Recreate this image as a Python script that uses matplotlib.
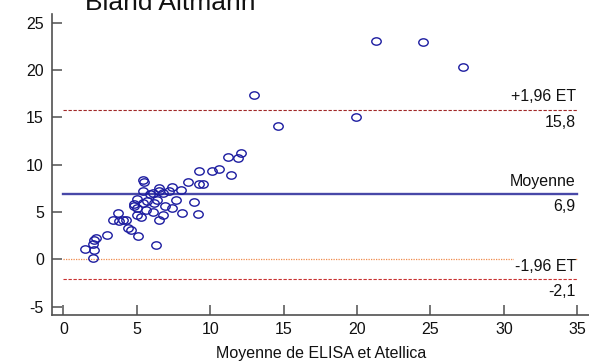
import matplotlib
matplotlib.use("Agg")
import matplotlib.pyplot as plt
from matplotlib.path import Path
from matplotlib.transforms import Affine2D

plt.rcParams['font.family'] = ['Liberation Sans', 'DejaVu Sans']
plt.rcParams['axes.unicode_minus'] = False

mean_x = [1.5, 2.0, 2.1, 2.0, 2.1, 2.2, 3.0, 3.4, 3.7, 3.8, 4.05, 4.3, 4.4, 4.6, 4.8, 4.8,
          5.0, 5.0, 5.0, 5.1, 5.3, 5.4, 5.5, 5.4, 5.4, 5.6, 5.7, 5.9, 6.1, 6.1, 6.2, 6.3,
          6.4, 6.5, 6.5, 6.5, 6.8, 6.8, 6.9, 7.2, 7.4, 7.4, 7.7, 8.0, 8.1, 8.5, 8.9, 9.2,
          9.25, 9.5, 9.25, 10.1, 10.6, 11.4, 11.2, 11.9, 12.1, 13.0, 14.6, 19.9, 21.3,
          24.5, 27.2]
diff_y = [1.1, 0.15, 0.95, 1.6, 2.0, 2.25, 2.6, 4.1, 4.9, 4.0, 4.1, 4.1, 3.3, 3.1, 5.6, 5.8,
          6.4, 5.4, 4.7, 2.5, 4.5, 8.4, 8.2, 7.2, 5.95, 5.25, 6.2, 6.9, 7.0, 5.0, 5.95, 1.55,
          6.3, 7.5, 7.2, 4.2, 7.0, 4.7, 5.6, 7.2, 7.6, 5.4, 6.3, 7.3, 4.9, 8.2, 6.1, 4.8,
          8.0, 8.0, 9.3, 9.3, 9.55, 8.9, 10.8, 10.7, 11.2, 17.4, 14.1, 15.0, 23.1,
          22.9, 20.3]

mean_diff = 6.9
upper_loa = 15.8
lower_loa = -2.1
line_x = [0, 35]

title = "Bland Altmann"
xlabel = "Moyenne de ELISA et Atellica"
xticks = [0, 5, 10, 15, 20, 25, 30, 35]
yticks = [-5, 0, 5, 10, 15, 20, 25]

fig = plt.figure(figsize=(5.89, 3.63), dpi=100)
ax = fig.add_axes([52.3 / 589, 1 - 314.7 / 363, 1 - 52.3 / 589, (314.7 - 14.3) / 363])
ax.set_xlim(-0.75, 35.8)
ax.set_ylim(-5.85, 25.87)

ax.plot(line_x, [0, 0], color='#f08a4a', lw=0.9, ls=(0, (1, 1)), zorder=1)
ax.plot(line_x, [upper_loa] * 2, color='#a02828', lw=0.8, ls=(0, (3, 1.5)), zorder=1)
ax.plot(line_x, [lower_loa] * 2, color='#c83030', lw=0.8, ls=(0, (3, 1.5)), zorder=1)
ax.plot(line_x, [mean_diff] * 2, color='#4848a8', lw=1.7, zorder=2)

ell = Path.unit_circle().transformed(Affine2D().scale(1.0, 0.78))
ax.plot(mean_x, diff_y, ls='none', marker=ell, markersize=6.8, mfc='none',
        mec='#1c1ca0', mew=1.0, zorder=3)

def lab(y, txt, up):
    off = 9.2 if up else -9.0
    ax.annotate(txt, xy=(34.9, y), xytext=(0, off), textcoords='offset points',
                ha='right', va='center', fontsize=11.5, color='#111111', zorder=4,
                bbox=dict(facecolor='white', edgecolor='none', pad=0.5))

lab(upper_loa, "+1,96 ET", True)
lab(upper_loa, "15,8", False)
lab(mean_diff, "Moyenne", True)
lab(mean_diff, "6,9", False)
lab(lower_loa, "-1,96 ET", True)
lab(lower_loa, "-2,1", False)

ax.set_xticks(xticks)
ax.set_yticks(yticks)
ax.tick_params(direction='in', length=7, width=1.1, color='#505050', labelsize=11.5,
               labelcolor='#111111')
ax.tick_params(axis='y', pad=6)
ax.tick_params(axis='x', pad=5)
for s in ['top', 'right']:
    ax.spines[s].set_visible(False)
for s in ['left', 'bottom']:
    ax.spines[s].set_color('#505050')
    ax.spines[s].set_linewidth(1.2)

ax.set_xlabel(xlabel, fontsize=11.5, color='#111111', labelpad=7)
fig.text(85 / 589, 1 - 10.5 / 363, title, fontsize=19, ha='left', va='baseline',
         color='#111111')

fig.savefig("out.png", dpi=100)
